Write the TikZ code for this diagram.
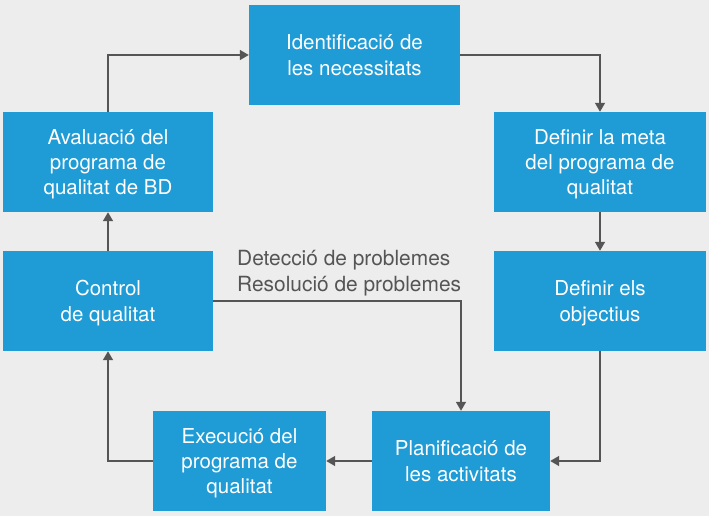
\documentclass[tikz,border=0pt]{standalone}
\usepackage{fontspec}
\setmainfont{TeX Gyre Heros}
\usetikzlibrary{positioning, arrows.meta}
\usepackage{xcolor}
\definecolor{boxblue}{HTML}{1F9BD5}
\definecolor{bggray}{HTML}{EDEDED}
\definecolor{linegray}{HTML}{555555}

\begin{document}
\begin{tikzpicture}[x=1pt, y=-1pt,
        stage/.style={rectangle, fill=boxblue, text=white, align=center,
            minimum height=100pt, inner sep=0pt, text depth=0pt,
            font=\fontsize{20.5}{25.4}\selectfont},
        flow/.style={-{Triangle[length=9pt, width=10pt]}, color=linegray,
            line width=1.5pt}]

        % Background
        \fill[bggray] (0, 0) rectangle (709, 516);
        \useasboundingbox (0, 0) rectangle (709, 516);

        % Top stage
        \node[stage, minimum width=211pt] (ident) at (354.5, 55) {Identificació de\\les necessitats};

        % Left column
        \node[stage, minimum width=210pt] (aval) at (108, 162) {Avaluació del\\programa de\\qualitat de BD};
        \node[stage, minimum width=210pt] (ctrl) at (108, 301) {Control\\de qualitat};

        % Right column
        \node[stage, minimum width=212pt] (meta) at (600, 162) {Definir la meta\\del programa de\\qualitat};
        \node[stage, minimum width=212pt] (objs) at (600, 301) {Definir els\\objectius};

        % Bottom row
        \node[stage, minimum width=173pt] (exec) at (239.5, 461) {Execució del\\programa de\\qualitat};
        \node[stage, minimum width=178pt] (plan) at (461, 461) {Planificació de\\les activitats};

        % Cycle
        \draw[flow] (aval.north) |- (ident.west);
        \draw[flow] (ident.east) -| (meta.north);
        \draw[flow] (meta) -- (objs);
        \draw[flow] (objs.south) |- (plan.east);
        \draw[flow] (plan) -- (exec);
        \draw[flow] (exec.west) -| (ctrl.south);
        \draw[flow] (ctrl) -- (aval);

        % Feedback from control
        \draw[flow] (ctrl.east) -| (plan.north);
        \node[anchor=base west, align=left, inner sep=0pt, text=linegray,
            font=\fontsize{20.9}{25.7}\selectfont] (probs) at (237, 291.5)
            {Detecció de problemes\\Resolució de problemes};

    \end{tikzpicture}
\end{document}
